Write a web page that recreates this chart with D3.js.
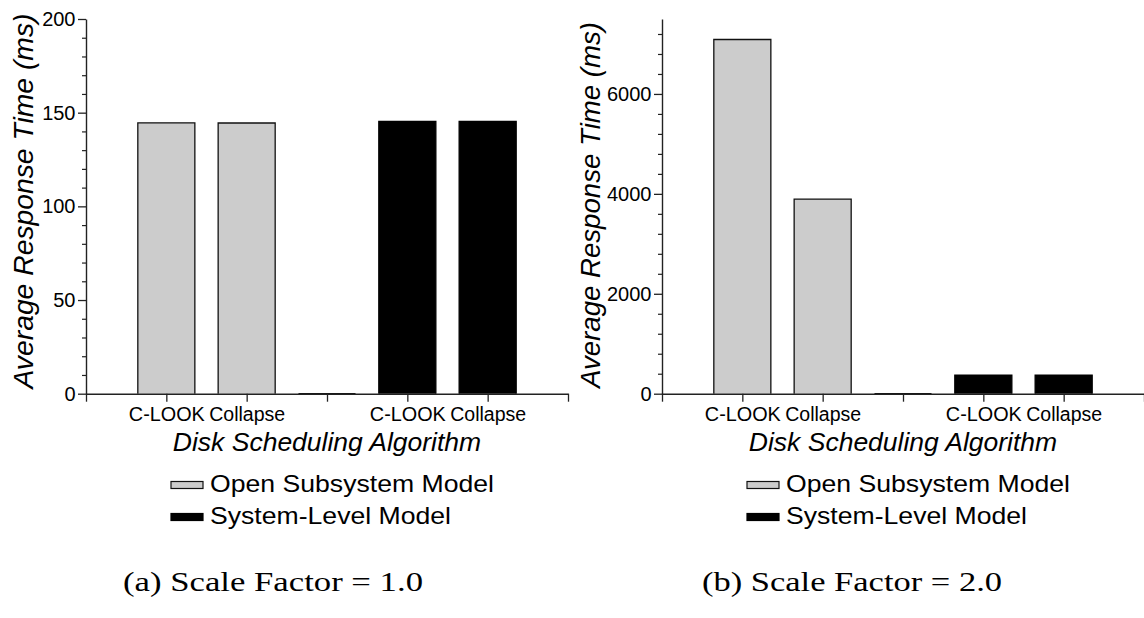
<!DOCTYPE html>
<html>
<head>
<meta charset="utf-8">
<script src="https://cdn.jsdelivr.net/npm/d3@7"></script>
<style>
  html, body { margin: 0; padding: 0; background: #fff; }
  svg { display: block; font-family: "Liberation Sans", Arial, sans-serif; }
</style>
</head>
<body>
<svg id="chart" width="1144" height="618"></svg>
<script>
// ---- data ----
const xTickLabels = ["", "C-LOOK", "Collapse", "", "C-LOOK", "Collapse", ""];
const openPositions = [1, 2, 3];
const systemPositions = [4, 5];
const openA = [144.6, 144.5, 0];
const systemA = [145.4, 145.4];
const openB = [7090, 3895, 0];
const systemB = [372, 372];
const yTicksA = [0, 50, 100, 150, 200];
const yTicksB = [0, 2000, 4000, 6000];
const seriesNames = ["Open Subsystem Model", "System-Level Model"];
const captions = ["(a) Scale Factor = 1.0", "(b) Scale Factor = 2.0"];

const svg = d3.select("#chart");
svg.append("rect").attr("width", 1144).attr("height", 618).attr("fill", "#fff");

function panel(opts) {
  const g = svg.append("g");
  const x = d3.scaleLinear().domain([0, 6]).range([opts.x0, opts.x0 + 482]);
  const y = d3.scaleLinear().domain([0, opts.ymax]).range([393.7, 19]);
  const bw = (x(1) - x(0)) * 0.71;

  const barPath = (p, v) => {
    const x0 = x(p) - bw / 2, x1 = x(p) + bw / 2;
    return `M${x0},${y(0)}V${y(v)}H${x1}V${y(0)}`;
  };

  // bars
  g.selectAll("path.open").data(opts.open).join("path")
    .attr("class", "open")
    .attr("d", (v, i) => barPath(openPositions[i], v))
    .attr("fill", "#cccccc").attr("stroke", "#111").attr("stroke-width", 1.3);
  g.selectAll("path.sys").data(opts.sys).join("path")
    .attr("class", "sys")
    .attr("d", (v, i) => barPath(systemPositions[i], v))
    .attr("fill", "#000").attr("stroke", "#000").attr("stroke-width", 1.3);

  // minor y ticks
  const minor = d3.range(0, opts.ymax + 1e-9, opts.minorStep).filter(v => !opts.yTicks.includes(v));
  g.append("g").attr("transform", `translate(${x(0)},0)`)
    .call(d3.axisLeft(y).tickValues(minor).tickSize(4).tickFormat("").tickSizeOuter(0))
    .call(s => s.select(".domain").remove())
    .selectAll("line").attr("stroke", "#222").attr("stroke-width", 1.2);

  // major y axis
  const ya = g.append("g").attr("transform", `translate(${x(0)},0)`)
    .call(d3.axisLeft(y).tickValues(opts.yTicks).tickFormat(d3.format("d"))
      .tickSize(8).tickPadding(2.5).tickSizeOuter(0));
  ya.select(".domain").attr("stroke", "#222").attr("stroke-width", 1.4);
  ya.selectAll("line").attr("stroke", "#222").attr("stroke-width", 1.3);
  ya.selectAll("text").attr("font-size", 20).attr("fill", "#000")
    .attr("font-family", "'Liberation Sans', Arial, sans-serif");

  // x axis
  const xa = g.append("g").attr("transform", `translate(0,${y(0)})`)
    .call(d3.axisBottom(x).tickValues(d3.range(0, 7)).tickFormat(i => xTickLabels[i])
      .tickSize(8).tickPadding(5).tickSizeOuter(0));
  xa.select(".domain").attr("stroke", "#222").attr("stroke-width", 1.4);
  xa.selectAll("line").attr("stroke", "#222").attr("stroke-width", 1.3);
  xa.selectAll("text").attr("font-size", 19.5).attr("fill", "#000")
    .attr("font-family", "'Liberation Sans', Arial, sans-serif")
    .filter(i => xTickLabels[i] !== "")
    .attr("textLength", 76).attr("lengthAdjust", "spacingAndGlyphs");

  // axis titles
  g.append("text")
    .attr("transform", `translate(${opts.ytitleX},${opts.ytitleY}) rotate(-90)`)
    .attr("text-anchor", "middle").attr("font-style", "italic")
    .attr("font-size", 28).attr("textLength", opts.ytitleLen).attr("lengthAdjust", "spacingAndGlyphs")
    .text("Average Response Time (ms)");
  g.append("text")
    .attr("x", (x(0) + x(6)) / 2).attr("y", 450.7)
    .attr("text-anchor", "middle").attr("font-style", "italic")
    .attr("font-size", 26.5)
    .text("Disk Scheduling Algorithm");

  // legend
  const lx = x(0) + 85;
  const legend = [
    { name: seriesNames[0], fill: "#cccccc", stroke: "#111", y: 485, base: 491.7, len: 284 },
    { name: seriesNames[1], fill: "#000", stroke: "#000", y: 517, base: 523.5, len: 241 }
  ];
  legend.forEach(d => {
    g.append("rect").attr("x", lx).attr("y", d.y - 3.5).attr("width", 32).attr("height", 7)
      .attr("fill", d.fill).attr("stroke", d.stroke).attr("stroke-width", 1.2);
    g.append("text").attr("x", lx + 39).attr("y", d.base)
      .attr("font-size", 24).attr("textLength", d.len).attr("lengthAdjust", "spacingAndGlyphs")
      .text(d.name);
  });

  // caption
  g.append("text")
    .attr("x", opts.capX).attr("y", 591)
    .attr("font-family", "'Liberation Serif', 'Times New Roman', serif")
    .attr("font-size", 27).attr("textLength", 300).attr("lengthAdjust", "spacingAndGlyphs")
    .text(opts.caption);
}

panel({ x0: 86, ymax: 200, yTicks: yTicksA, minorStep: 10, open: openA, sys: systemA,
        ytitleX: 33, ytitleY: 201, ytitleLen: 375, capX: 123, caption: captions[0] });
panel({ x0: 662, ymax: 7500, yTicks: yTicksB, minorStep: 400, open: openB, sys: systemB,
        ytitleX: 600, ytitleY: 205, ytitleLen: 366, capX: 702, caption: captions[1] });
</script>
</body>
</html>
